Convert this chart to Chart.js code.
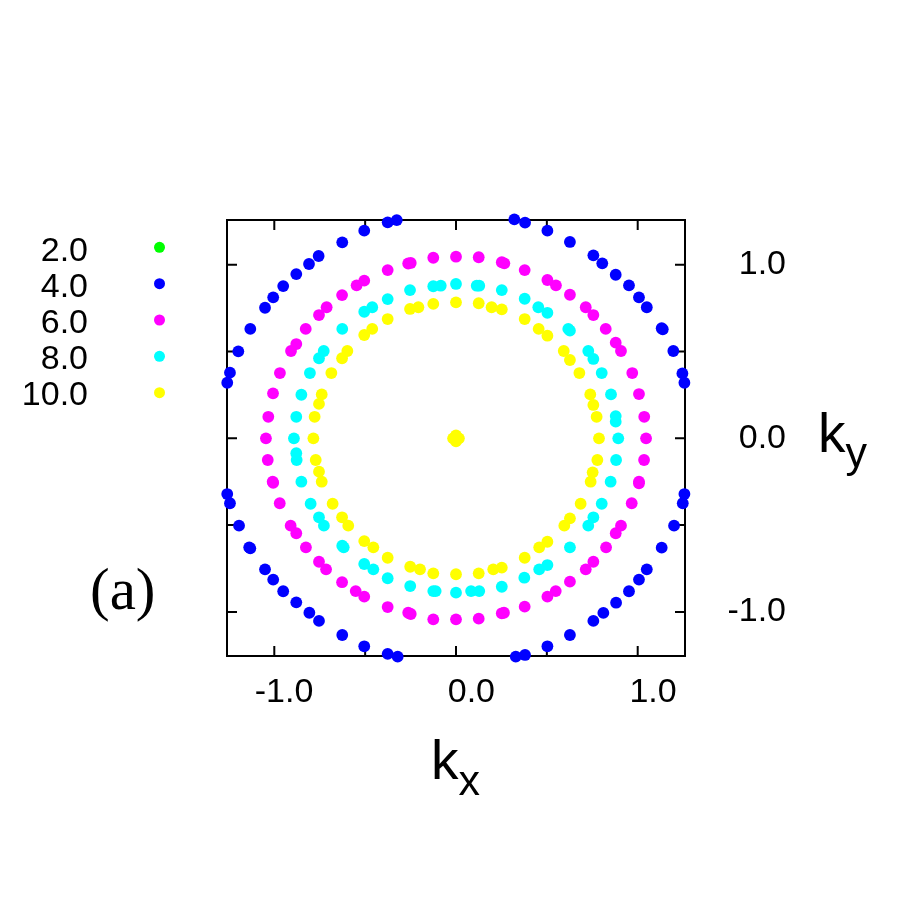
<!DOCTYPE html>
<html lang="en">
<head>
<meta charset="UTF-8">
<title>k-space rings</title>
<script src="https://cdn.jsdelivr.net/npm/chart.js"></script>
<style>
    body {
        margin: 0;
        background: #fff;
    }
    #plot {
        display: block;
    }
</style>
</head>
<body>
<canvas id="plot" width="911" height="914"></canvas>
<script>
    const legendLabels = ['2.0', '4.0', '6.0', '8.0', '10.0'];
    const seriesColors = ['#00ff00', '#0000ff', '#ff00ff', '#00ffff', '#ffff00'];
    const xTickValues = [-1.0, -0.5, 0.0, 0.5, 1.0];
    const yTickValues = [-1.0, -0.5, 0.0, 0.5, 1.0];

    // [kx, ky], one array per series
    const ring2 = [[0, 0]];

    const ring4 = [
        [-0.326, 1.257], [-0.376, 1.244], [-0.505, 1.196], [-0.626, 1.129], [-0.756, 1.050], [-0.809, 1.004],
        [-0.879, 0.946], [-0.951, 0.877], [-1.006, 0.812], [-1.051, 0.752], [-1.132, 0.630], [-1.198, 0.501],
        [-1.244, 0.378], [-1.259, 0.320],
        [0.321, 1.261], [0.380, 1.242], [0.503, 1.196], [0.627, 1.131], [0.756, 1.054], [0.805, 1.008],
        [0.879, 0.942], [0.952, 0.881], [1.007, 0.812], [1.050, 0.755], [1.132, 0.634], [1.138, 0.628],
        [1.196, 0.503], [1.246, 0.374], [1.257, 0.320],
        [-1.259, -0.321], [-1.244, -0.374], [-1.194, -0.503], [-1.138, -0.628], [-1.132, -0.634], [-1.051, -0.755],
        [-1.006, -0.814], [-0.951, -0.881], [-0.879, -0.945], [-0.807, -1.005], [-0.754, -1.052], [-0.626, -1.133],
        [-0.505, -1.198], [-0.376, -1.242], [-0.321, -1.258],
        [1.257, -0.321], [1.248, -0.374], [1.200, -0.503], [1.132, -0.630], [1.050, -0.755], [1.007, -0.814],
        [0.952, -0.881], [0.881, -0.947], [0.811, -1.006], [0.756, -1.052], [0.627, -1.133], [0.503, -1.198],
        [0.380, -1.248], [0.329, -1.258]
    ];

    const ring6 = [
        [0, 1.046],
        [-0.125, 1.040], [-0.263, 1.007], [-0.249, 1.010], [-0.376, 0.969], [-0.505, 0.908], [-0.547, 0.881],
        [-0.627, 0.825], [-0.712, 0.755], [-0.754, 0.710], [-0.827, 0.630], [-0.879, 0.543], [-0.908, 0.503],
        [-0.969, 0.376], [-1.007, 0.259], [-1.033, 0.124], [-1.046, 0],
        [0.125, 1.043], [0.252, 1.014], [0.266, 1.008], [0.378, 0.969], [0.503, 0.912], [0.550, 0.881],
        [0.627, 0.827], [0.714, 0.755], [0.756, 0.710], [0.824, 0.630], [0.879, 0.551], [0.908, 0.503],
        [0.970, 0.376], [1.007, 0.255], [1.036, 0.124], [1.046, 0],
        [-1.036, -0.125], [-1.009, -0.250], [-1.006, -0.256], [-0.970, -0.374], [-0.910, -0.503], [-0.879, -0.547],
        [-0.826, -0.628], [-0.754, -0.711], [-0.715, -0.755], [-0.627, -0.829], [-0.552, -0.880], [-0.505, -0.912],
        [-0.376, -0.972], [-0.263, -1.005], [-0.249, -1.012], [-0.125, -1.043], [0, -1.043],
        [1.035, -0.125], [1.007, -0.250], [1.007, -0.259], [0.967, -0.374], [0.908, -0.503], [0.879, -0.547],
        [0.826, -0.628], [0.756, -0.711], [0.714, -0.755], [0.627, -0.826], [0.549, -0.880], [0.503, -0.912],
        [0.378, -0.970], [0.252, -1.008], [0.264, -1.005], [0.125, -1.039]
    ];

    const ring8 = [
        [0, 0.889],
        [-0.084, 0.879], [-0.125, 0.876], [-0.253, 0.854], [-0.376, 0.802], [-0.461, 0.755], [-0.505, 0.729],
        [-0.626, 0.630], [-0.728, 0.503], [-0.754, 0.461], [-0.804, 0.376], [-0.851, 0.251], [-0.879, 0.124],
        [-0.892, 0],
        [0.114, 0.879], [0.128, 0.879], [0.252, 0.854], [0.378, 0.804], [0.453, 0.755], [0.503, 0.723],
        [0.618, 0.630], [0.627, 0.620], [0.728, 0.503], [0.756, 0.457], [0.802, 0.376], [0.853, 0.253],
        [0.879, 0.128], [0.879, 0.096], [0.893, 0],
        [-0.879, -0.086], [-0.877, -0.125], [-0.851, -0.250], [-0.800, -0.377], [-0.754, -0.455], [-0.727, -0.503],
        [-0.626, -0.619], [-0.618, -0.628], [-0.505, -0.724], [-0.455, -0.755], [-0.376, -0.806], [-0.252, -0.851],
        [-0.125, -0.880], [-0.112, -0.880], [0, -0.889],
        [0.881, -0.125], [0.851, -0.250], [0.802, -0.377], [0.756, -0.455], [0.728, -0.503], [0.627, -0.628],
        [0.503, -0.730], [0.458, -0.755], [0.376, -0.803], [0.252, -0.855], [0.128, -0.880], [0.083, -0.880]
    ];

    const ring10 = [
        [0, 0.783],
        [-0.125, 0.774], [-0.207, 0.755], [-0.253, 0.745], [-0.376, 0.687], [-0.461, 0.630], [-0.505, 0.595],
        [-0.598, 0.503], [-0.627, 0.461], [-0.686, 0.376], [-0.739, 0.253], [-0.754, 0.198], [-0.778, 0.124],
        [-0.785, 0],
        [0.125, 0.778], [0.196, 0.755], [0.252, 0.743], [0.378, 0.687], [0.455, 0.630], [0.503, 0.591],
        [0.593, 0.503], [0.627, 0.451], [0.679, 0.376], [0.739, 0.253], [0.756, 0.192], [0.774, 0.124],
        [0.787, 0],
        [-0.772, -0.125], [-0.754, -0.192], [-0.739, -0.250], [-0.679, -0.377], [-0.627, -0.455], [-0.593, -0.503],
        [-0.505, -0.592], [-0.455, -0.628], [-0.376, -0.688], [-0.252, -0.740], [-0.198, -0.755], [-0.125, -0.778],
        [0, -0.783],
        [0.778, -0.125], [0.752, -0.196], [0.741, -0.250], [0.686, -0.377], [0.627, -0.461], [0.596, -0.503],
        [0.503, -0.596], [0.458, -0.628], [0.378, -0.688], [0.252, -0.745], [0.205, -0.755], [0.125, -0.778],
        [0.016, 0], [-0.016, 0], [0, 0.017], [0, -0.017]
    ];

    const rings = [ring2, ring4, ring6, ring8, ring10];

    const sansFont = '"Liberation Sans", Arial, Helvetica, sans-serif';

    // border box and inward ticks, drawn under the points like the original
    const framePlugin = {
        id: 'frame',
        beforeDatasetsDraw(chart) {
            const { ctx, chartArea: a, scales: { x, y } } = chart;
            ctx.save();
            ctx.strokeStyle = '#000';
            ctx.lineWidth = 2;
            ctx.strokeRect(a.left, a.top, a.right - a.left, a.bottom - a.top);
            ctx.beginPath();
            xTickValues.forEach(v => {
                const px = x.getPixelForValue(v);
                ctx.moveTo(px, a.bottom); ctx.lineTo(px, a.bottom - 10);
                ctx.moveTo(px, a.top); ctx.lineTo(px, a.top + 10);
            });
            yTickValues.forEach(v => {
                const py = y.getPixelForValue(v);
                ctx.moveTo(a.left, py); ctx.lineTo(a.left + 10, py);
                ctx.moveTo(a.right, py); ctx.lineTo(a.right - 10, py);
            });
            ctx.stroke();
            ctx.restore();
        }
    };

    // legend (text then dot), axis titles with subscripts, panel tag
    const textPlugin = {
        id: 'texts',
        afterDraw(chart) {
            const ctx = chart.ctx;
            ctx.save();
            ctx.textBaseline = 'alphabetic';

            chart.data.datasets.forEach((ds, i) => {
                ctx.font = '34px ' + sansFont;
                ctx.textAlign = 'right';
                ctx.fillStyle = '#000';
                ctx.fillText(ds.label, 88, 260.5 + i * 36);
                ctx.fillStyle = ds.backgroundColor;
                ctx.beginPath();
                ctx.arc(159.5, 247.3 + i * 36.35, 5.5, 0, 2 * Math.PI);
                ctx.fill();
            });

            ctx.textAlign = 'left';
            ctx.fillStyle = '#000';
            function subLabel(main, sub, x, base) {
                ctx.font = '55px ' + sansFont;
                ctx.fillText(main, x, base);
                const w = ctx.measureText(main).width;
                ctx.font = '43px ' + sansFont;
                ctx.fillText(sub, x + w, base + 15.5);
            }
            subLabel('k', 'x', 431, 779.3);
            subLabel('k', 'y', 818, 451.7);

            ctx.font = '59px "Liberation Serif", "Times New Roman", serif';
            ctx.fillText('(a)', 90, 609);
            ctx.restore();
        }
    };

    const datasets = rings.map((ring, i) => ({
        label: legendLabels[i],
        data: ring.map(p => ({ x: p[0], y: p[1] })),
        backgroundColor: seriesColors[i],
        borderColor: seriesColors[i],
        pointRadius: 5.9,
        pointBorderWidth: 0,
        pointHoverRadius: 5.9,
        clip: false,
        order: rings.length - i
    }));

    const tickLabel = v => Number.isInteger(v) ? v.toFixed(1) : '';

    new Chart(document.getElementById('plot'), {
        type: 'scatter',
        data: { datasets: datasets },
        options: {
            responsive: false,
            animation: false,
            events: [],
            layout: { padding: { left: 227, top: 220, right: 125, bottom: 0 } },
            plugins: {
                legend: { display: false },
                tooltip: { enabled: false }
            },
            scales: {
                x: {
                    type: 'linear',
                    position: 'bottom',
                    min: -1.2603,
                    max: 1.2603,
                    afterFit(s) { s.height = 258; },
                    afterBuildTicks(s) { s.ticks = xTickValues.map(v => ({ value: v })); },
                    grid: { display: false, drawTicks: false },
                    border: { display: false },
                    ticks: {
                        autoSkip: false,
                        maxRotation: 0,
                        align: 'end',
                        labelOffset: 39,
                        padding: 16,
                        color: '#000',
                        font: { family: sansFont, size: 34 },
                        callback: tickLabel
                    }
                },
                y: {
                    type: 'linear',
                    position: 'right',
                    min: -1.254,
                    max: 1.2575,
                    afterFit(s) { s.width = 101; },
                    afterBuildTicks(s) { s.ticks = yTickValues.map(v => ({ value: v })); },
                    grid: { display: false, drawTicks: false },
                    border: { display: false },
                    ticks: {
                        autoSkip: false,
                        crossAlign: 'far',
                        padding: 42,
                        color: '#000',
                        font: { family: sansFont, size: 34 },
                        callback: tickLabel
                    }
                }
            }
        },
        plugins: [framePlugin, textPlugin]
    });
</script>
</body>
</html>
